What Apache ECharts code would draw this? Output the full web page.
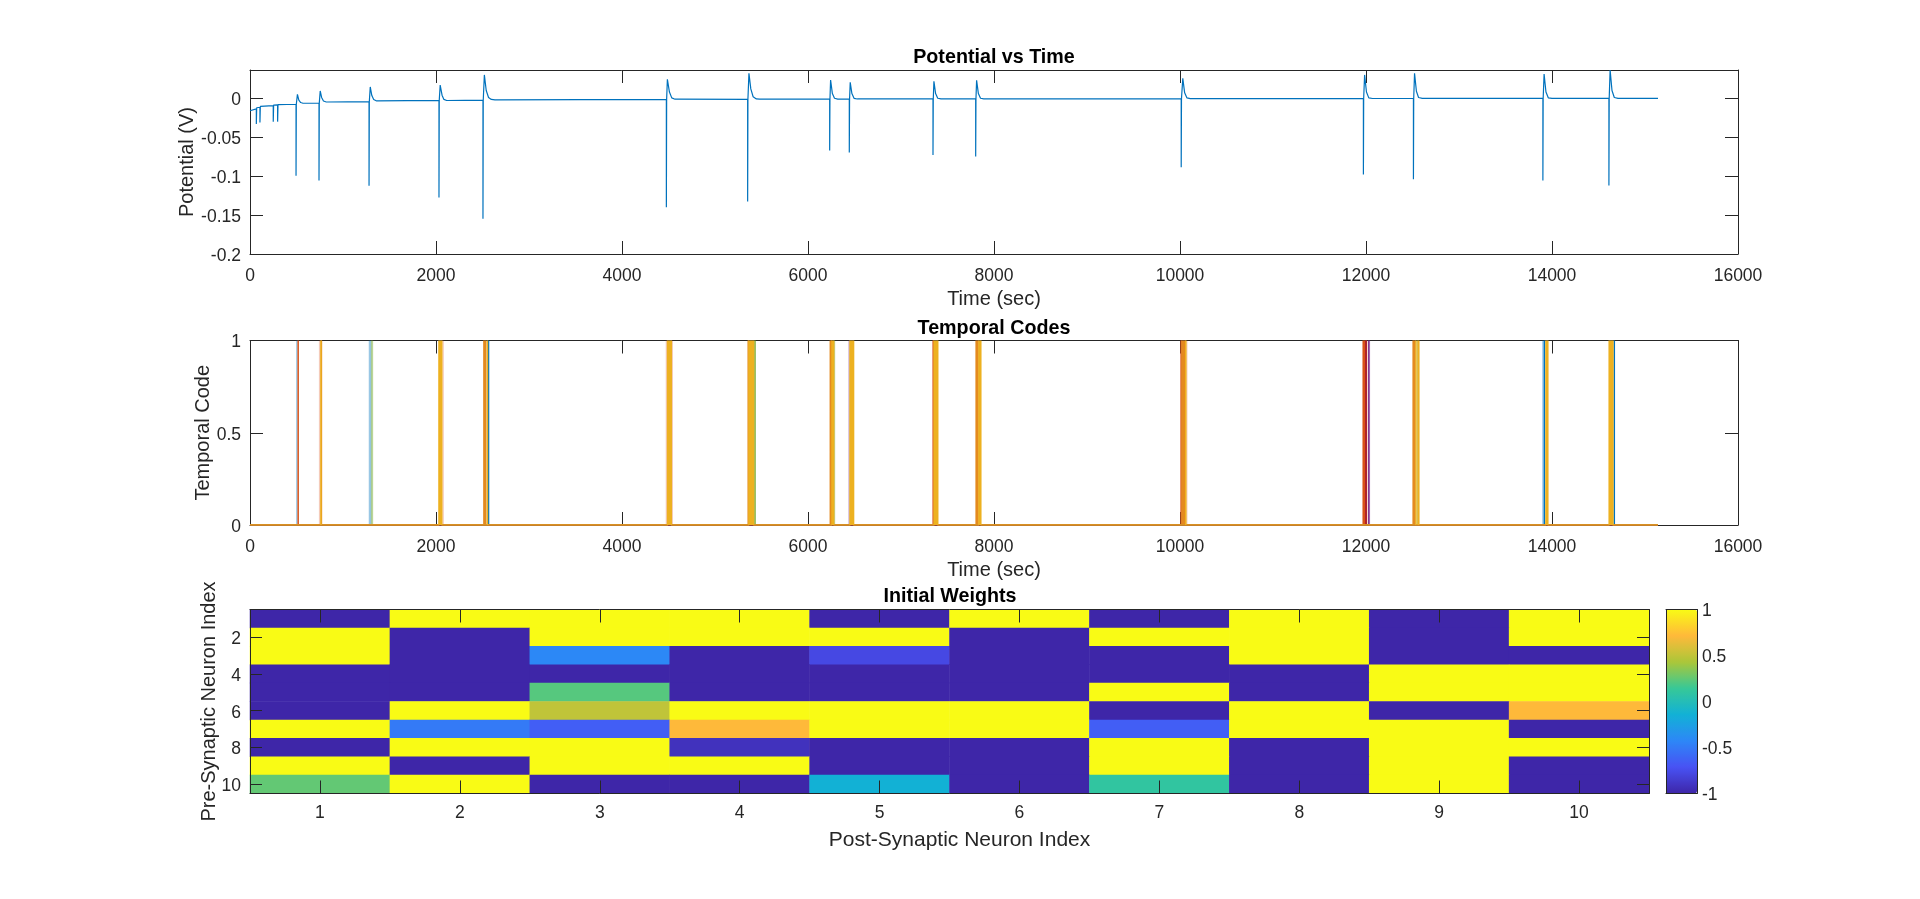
<!DOCTYPE html>
<html>
<head>
<meta charset="utf-8">
<title>Potential vs Time</title>
<script src="https://cdn.jsdelivr.net/npm/echarts@6/dist/echarts.min.js"></script>
<style>
    html, body { margin: 0; padding: 0; background: #fff; }
    #chartContainer { width: 1920px; height: 899px; }
</style>
</head>
<body>
<div id="chartContainer"></div>
<script>
// potential trace, one line per spike: [time, volts]
const potentialPoints = [
    [0, -0.016], [68, -0.0137], [68, -0.033], [72, -0.0122], [107, -0.0115], [107, -0.031], [111, -0.0105],
    [250, -0.0094], [250, -0.030], [254, -0.0088], [297, -0.0085], [297, -0.030], [301, -0.0082],
    [495, -0.0077], [495, -0.0996], [498, -0.0077], [510, 0.005], [525, -0.0025], [545, -0.0055], [570, -0.0064],
    [742, -0.0062], [742, -0.1056], [745, -0.0062], [755, 0.0094], [770, 0.001], [790, -0.0035], [820, -0.0048],
    [1280, -0.0043], [1280, -0.1124], [1283, -0.0043], [1293, 0.0145], [1310, 0.0035], [1330, -0.0015], [1362, -0.0034],
    [2032, -0.0027], [2032, -0.1274], [2035, -0.0027], [2045, 0.017], [2065, 0.004], [2085, -0.0015], [2115, -0.0029],
    [2505, -0.0025], [2505, -0.1547], [2508, -0.0025], [2520, 0.030], [2540, 0.010], [2565, 0.001], [2595, -0.0015], [2634, -0.0021],
    [4477, -0.0014], [4477, -0.140], [4480, -0.0014], [4488, 0.0244], [4510, 0.008], [4535, 0.0005], [4570, -0.0012],
    [5351, -0.0013], [5351, -0.1325], [5354, -0.0013], [5365, 0.032], [5385, 0.012], [5410, 0.002], [5445, -0.0009], [5480, -0.0012],
    [6233, -0.0012], [6233, -0.067], [6236, -0.0012], [6243, 0.0235], [6262, 0.006], [6285, 0], [6320, -0.001],
    [6444, -0.001], [6444, -0.0697], [6447, -0.001], [6454, 0.0205], [6472, 0.006], [6495, -0.0001], [6530, -0.0009],
    [7344, -0.0009], [7344, -0.073], [7347, -0.0009], [7354, 0.0218], [7372, 0.006], [7395, 0], [7430, -0.0008],
    [7803, -0.0008], [7803, -0.0748], [7806, -0.0008], [7813, 0.023], [7832, 0.006], [7855, 0], [7890, -0.0007],
    [10013, -0.0005], [10013, -0.0885], [10016, -0.0005], [10030, 0.0256], [10050, 0.007], [10075, 0.0005], [10110, -0.0004],
    [11972, -0.0004], [11972, -0.098], [11975, -0.0004], [11985, 0.030], [12005, 0.008], [12030, 0.0005], [12070, -0.0003],
    [12510, -0.0003], [12510, -0.104], [12513, -0.0003], [12522, 0.032], [12542, 0.009], [12565, 0.001], [12605, -0.0002],
    [13902, -0.0002], [13902, -0.1056], [13905, -0.0002], [13915, 0.031], [13935, 0.008], [13960, 0.0006], [14000, -0.0002],
    [14612, -0.0002], [14612, -0.112], [14615, -0.0002], [14625, 0.0363], [14645, 0.010], [14670, 0.001], [14710, -0.0002],
    [15140, -0.0002]
];

// pulse times of the temporal codes, one list per line colour
const codeEnd = 15140;
const codeBlue = [2565, 13918, 14670];
const codeBlueFaint = [504, 1285, 1291, 1297, 13903];
const codeOrange = [518, 7346, 10012, 11970, 11980, 11992, 12005];
const codeOrangeFaint = [749, 2076, 4478, 4540, 10072];
const codeAmber = [768, 2515, 2525, 2535, 5357, 6240, 6250, 7808, 7818, 7828, 10022, 10032, 10042, 10052, 12507, 12517, 12527];
const codePurple = [12030];
const codePurpleFaint = [6442, 12036];
const codeGreen = [5430];
const codeGreenFaint = [1308, 1316, 6284, 12552];
const codeRed = [12000];
const codeYellow = [763, 2032, 2042, 2052, 2062, 2553, 4490, 4500, 4510, 4520, 4530,
    5365, 5375, 5385, 5395, 5405, 5415, 6258, 6268, 6276, 6452, 6462, 6470, 6480, 6490,
    7356, 7365, 7375, 7385, 7395, 7838, 7848, 7858, 10062, 12537, 12560, 12568,
    13935, 13945, 13955, 14615, 14625, 14635, 14645, 14655];

const neuronLabels = ['1', '2', '3', '4', '5', '6', '7', '8', '9', '10'];

// initial weights, rows are pre-synaptic neurons 1..10
const weights = [
    [-1, 1, 1, 1, -1, 1, -1, 1, -1, 1],
    [1, -1, 1, 1, 1, -1, 1, 1, -1, 1],
    [1, -1, -0.42, -1, -0.78, -1, -1, 1, -1, -1],
    [-1, -1, -1, -1, -1, -1, -1, -1, 1, 1],
    [-1, -1, 0.22, -1, -1, -1, 1, -1, 1, 1],
    [-1, 1, 0.5, 1, 1, 1, -1, 1, -1, 0.71],
    [1, -0.5, -0.65, 0.71, 1, 1, -0.65, 1, 1, -1],
    [-1, 1, 1, -0.92, -1, -1, 1, -1, 1, 1],
    [1, -1, 1, 1, -1, -1, 1, -1, 1, -1],
    [0.25, 1, -1, -1, -0.14, -1, 0.1, -1, 1, -1]
];

const parula = ['#3e26a8', '#4852f4', '#2d87f7', '#12b1d6', '#37c897', '#abc739', '#ffb93a', '#f9fb15'];

const textColor = '#262626';
const tickSize = 17.5;
const labelSize = 20;
const titleSize = 19.7;
const fontName = '"Liberation Sans", Arial, sans-serif';

const axisLine = { show: true, onZero: false, lineStyle: { color: textColor, width: 1 } };
const axisTick = { show: true, inside: true, length: 13, lineStyle: { color: textColor, width: 1 } };
const axisLabel = { color: textColor, fontSize: tickSize, fontFamily: fontName };
// y tick labels sit a little below their ticks in the reference
const yLabelShift = { verticalAlign: 'top', lineHeight: 4 };
const nameStyle = { color: textColor, fontSize: labelSize, fontFamily: fontName };
const titleStyle = { color: '#000', fontSize: titleSize, fontWeight: 'bold', fontFamily: fontName };

function timeAxis(gridIndex, name, position) {
    const mirror = position === 'top';
    return {
        type: 'value', gridIndex, position, min: 0, max: 16000, interval: 2000,
        name: mirror ? '' : name, nameLocation: 'middle', nameGap: 35, nameTextStyle: nameStyle, nameMoveOverlap: false,
        axisLine, axisTick, splitLine: { show: false },
        axisLabel: { ...axisLabel, show: !mirror, margin: 13, formatter: (v) => String(v) }
    };
}

function valueAxis(gridIndex, name, position, min, max, interval, nameGap) {
    const mirror = position === 'right';
    return {
        type: 'value', gridIndex, position, min, max, interval,
        name: mirror ? '' : name, nameLocation: 'middle', nameGap, nameTextStyle: nameStyle, nameMoveOverlap: false,
        axisLine, axisTick, splitLine: { show: false },
        axisLabel: { ...axisLabel, ...yLabelShift, show: !mirror, margin: 9, showMaxLabel: max === 1 }
    };
}

function neuronAxis(type, gridIndex, name, position) {
    const isY = type === 'y';
    const mirror = position === 'top' || position === 'right';
    const evenOnly = (i) => (i + 1) % 2 === 0;
    const labelBase = isY ? { ...axisLabel, ...yLabelShift } : axisLabel;
    return {
        type: 'category', gridIndex, position, data: neuronLabels, inverse: isY, z: 5,
        name: mirror ? '' : name, nameLocation: 'middle', nameGap: isY ? 31 : 36, nameMoveOverlap: false,
        nameTextStyle: isY ? nameStyle : { ...nameStyle, fontSize: 21, padding: [0, 0, 0, 20] },
        axisLine,
        axisTick: { ...axisTick, alignWithLabel: true, length: isY ? 12 : 13, interval: isY ? evenOnly : 0 },
        axisLabel: { ...labelBase, show: !mirror, margin: isY ? 9 : 11, interval: isY ? evenOnly : 0 },
        splitLine: { show: false }
    };
}

function codeLine(times, color, z, opacity) {
    const data = [[0, 0]];
    times.forEach(t => { data.push([t, 0], [t, 1], [t, 0]); });
    data.push([codeEnd, 0]);
    return {
        type: 'line', xAxisIndex: 2, yAxisIndex: 2, data, color, z, showSymbol: false, silent: true,
        lineStyle: { color, width: 1.5, opacity }
    };
}

function plainAxis(type, gridIndex, position) {
    return {
        type: 'value', gridIndex, position, min: 0, max: 1, z: 5,
        axisLine, axisTick: { show: false }, axisLabel: { show: false }, splitLine: { show: false }
    };
}

const heatData = [];
weights.forEach((row, r) => {
    row.forEach((v, c) => { heatData.push([c, r, v]); });
});

const chart = echarts.init(document.getElementById('chartContainer'));

chart.setOption({
    animation: false,
    backgroundColor: '#fff',
    textStyle: { fontFamily: fontName },
    title: [
        { text: 'Potential vs Time', left: 989, top: 43, textAlign: 'center', textStyle: titleStyle },
        { text: 'Temporal Codes', left: 989, top: 314, textAlign: 'center', textStyle: titleStyle },
        { text: 'Initial Weights', left: 945, top: 582, textAlign: 'center', textStyle: titleStyle }
    ],
    grid: [
        { left: 250, top: 70, width: 1488, height: 184 },
        { left: 250, top: 340.5, width: 1488, height: 184.5 },
        { left: 250, top: 609.5, width: 1399, height: 184 },
        { left: 1666, top: 609.5, width: 31, height: 184 }
    ],
    xAxis: [
        timeAxis(0, 'Time (sec)', 'bottom'),
        timeAxis(0, '', 'top'),
        timeAxis(1, 'Time (sec)', 'bottom'),
        timeAxis(1, '', 'top'),
        neuronAxis('x', 2, 'Post-Synaptic Neuron Index', 'bottom'),
        neuronAxis('x', 2, '', 'top'),
        plainAxis('x', 3, 'bottom'),
        plainAxis('x', 3, 'top')
    ],
    yAxis: [
        valueAxis(0, 'Potential (V)', 'left', -0.2, 0.0363, 0.05, 53),
        valueAxis(0, '', 'right', -0.2, 0.0363, 0.05, 0),
        valueAxis(1, 'Temporal Code', 'left', 0, 1, 0.5, 37),
        valueAxis(1, '', 'right', 0, 1, 0.5, 0),
        neuronAxis('y', 2, 'Pre-Synaptic Neuron Index', 'left'),
        neuronAxis('y', 2, '', 'right'),
        {
            type: 'value', gridIndex: 3, position: 'right', min: -1, max: 1, interval: 0.5, z: 5,
            axisLine, axisTick: { show: false }, axisLabel: { ...axisLabel, ...yLabelShift, margin: 5 }, splitLine: { show: false }
        },
        { type: 'value', gridIndex: 3, position: 'left', min: -1, max: 1, z: 5, axisLine, axisTick: { show: false }, axisLabel: { show: false }, splitLine: { show: false } }
    ],
    visualMap: {
        type: 'continuous', min: -1, max: 1, seriesIndex: 12, calculable: false, show: true,
        left: 1666, top: 609.5, itemWidth: 31, itemHeight: 184, padding: 0, text: null, showLabel: false,
        inRange: { color: parula }
    },
    series: [
        {
            type: 'line', xAxisIndex: 0, yAxisIndex: 0, data: potentialPoints, showSymbol: false, silent: true,
            lineStyle: { color: '#0072BD', width: 1.2 }
        },
        codeLine(codeBlueFaint, '#0072BD', 2, 0.4),
        codeLine(codeOrangeFaint, '#D95319', 2, 0.3),
        codeLine(codePurpleFaint, '#7E2F8E', 2, 0.4),
        codeLine(codeGreenFaint, '#77AC30', 2, 0.5),
        codeLine(codeBlue, '#0072BD', 3),
        codeLine(codeOrange, '#D95319', 3),
        codeLine(codeAmber, '#E48A1F', 3),
        codeLine(codePurple, '#7E2F8E', 4),
        codeLine(codeGreen, '#77AC30', 5),
        codeLine(codeRed, '#A2142F', 6),
        codeLine(codeYellow, '#EDB120', 7),
        {
            type: 'heatmap', xAxisIndex: 4, yAxisIndex: 4, data: heatData, silent: true,
            itemStyle: { borderWidth: 0 }, progressive: 0
        }
    ]
});

window.addEventListener('resize', () => { chart.resize(); });
</script>
</body>
</html>
